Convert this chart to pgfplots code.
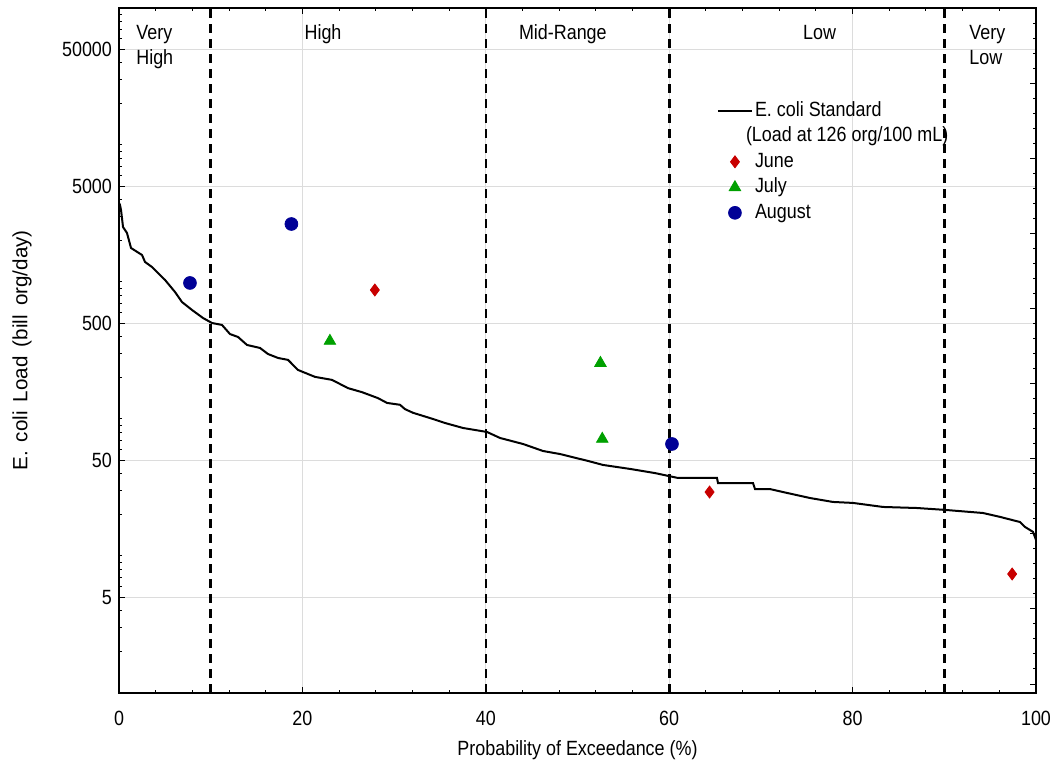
\documentclass[border=0pt]{standalone}
\usepackage{fontspec}
\setmainfont{Liberation Sans}[FakeStretch=0.87]
\newfontfamily\plainsans{Liberation Sans}
\usepackage{pgfplots}
\pgfplotsset{compat=1.18}

\definecolor{augblue}{RGB}{0,0,150}
\definecolor{junred}{RGB}{200,0,0}
\definecolor{julgreen}{RGB}{0,160,0}
\definecolor{gridgray}{RGB}{220,220,220}

\begin{document}
\begin{tikzpicture}
\begin{axis}[
  scale only axis,
  width=458.5pt, height=342.5pt,
  xmin=0, xmax=100,
  ymode=log, ymin=1, ymax=100000,
  font=\fontsize{10.3}{12}\selectfont,
  /pgf/number format/assume math mode=true,
  xtick={0,20,...,100},
  minor x tick num=4,
  ytick={5,50,500,5000,50000},
  yticklabels={5,50,500,5000,50000},
  minor ytick={2,3,4,6,7,8,9,10,20,30,40,60,70,80,90,100,200,300,400,600,700,800,900,1000,2000,3000,4000,6000,7000,8000,9000,10000,20000,30000,40000,60000,70000,80000,90000},
  xtick pos=both, ytick pos=left,
  tick align=inside,
  major tick length=3pt, minor tick length=1.7pt,
  tick style={black, line width=0.5pt},
  axis line style={black, line width=0.8pt},
  grid=major, major grid style={gridgray, line width=0.6pt},
  xticklabel style={yshift=-5.5pt},
  xlabel={Probability of Exceedance (\%)},
  ylabel={\plainsans E.\ \,coli\ \,Load\ \,(bill\ \,org/day)},
  xlabel style={at={(axis description cs:0.5,-0.0832)}, anchor=center},
  ylabel style={at={(axis description cs:-0.1058,0.5)}, anchor=center},
  legend style={at={(axis cs:64.5,23200)}, anchor=north west, draw=none, fill=none,
    font=\fontsize{10.3}{12}\selectfont, row sep=1.25pt,
    nodes={inner sep=1pt, text height=7.5pt, text depth=2pt}},
  legend cell align=left,
]
% duration curve (E. coli standard)
\addplot[black, line width=1pt] coordinates {
(0,3775) (0.11,3648) (0.22,3357) (0.44,2519) (0.87,2280) (1.31,1771) (2.51,1574)
(2.84,1400) (3.60,1286) (5.02,1035) (6.11,845) (6.87,714) (7.96,625) (9.16,546)
(10.14,502) (11.23,486) (12.10,417) (12.98,397) (13.96,347) (15.38,330) (16.25,298)
(17.34,279) (18.43,270) (19.52,228) (21.37,203) (23.23,193) (24.97,168) (26.50,157)
(28.24,142) (29.23,131) (30.64,127) (31.19,118) (32.06,111) (34.24,100) (35.55,93.5)
(37.51,86) (40.13,80.4) (41.55,72.7) (44.06,65.7) (46.24,58.4) (48.09,55.5)
(51.15,49.4) (52.78,46.2) (55.73,43.2) (58.45,40.3) (60.96,37.1) (65.21,37.1)
(65.32,34.1) (69.14,34.1) (69.36,30.8) (70.99,30.8) (72.41,29.3) (75.35,26.5)
(77.86,24.8) (80.04,24.4) (83.32,22.8) (87.02,22.4) (90.08,21.7) (94.22,20.6)
(96.07,19.3) (98.26,17.7) (98.80,16.3) (99.67,15.0) (100,13.1)
};
\addlegendentry{E. coli Standard}
\addlegendimage{empty legend}
\addlegendentry{\hspace*{-4.5pt}(Load at 126 org/100 mL)}
\addplot[only marks, mark=diamond*, mark size=3pt, color=junred] coordinates {
(27.9,874) (64.4,29.3) (97.4,7.39)
};
\addlegendentry{June}
\addplot[only marks, mark=triangle*, mark size=3.3pt, color=julgreen] coordinates {
(23.0,371) (52.5,256) (52.7,71.5)
};
\addlegendentry{July}
\addplot[only marks, mark=*, mark size=3.2pt, color=augblue] coordinates {
(7.74,984) (18.8,2650) (60.3,65.7)
};
\addlegendentry{August}
% flow regime boundaries
\addplot[forget plot, black, line width=1.3pt, dash pattern=on 4.5pt off 3pt] coordinates {(10,1) (10,100000)};
\addplot[forget plot, black, line width=1.3pt, dash pattern=on 4.5pt off 3pt] coordinates {(40,1) (40,100000)};
\addplot[forget plot, black, line width=1.3pt, dash pattern=on 4.5pt off 3pt] coordinates {(60,1) (60,100000)};
\addplot[forget plot, black, line width=1.3pt, dash pattern=on 4.5pt off 3pt] coordinates {(90,1) (90,100000)};
% regime labels
\node[anchor=base west, inner sep=0pt] at (axis cs:1.85,58400) {Very};
\node[anchor=base west, inner sep=0pt] at (axis cs:1.85,39000) {High};
\node[anchor=base, inner sep=0pt] at (axis cs:22.25,58400) {High};
\node[anchor=base, inner sep=0pt] at (axis cs:48.4,58400) {Mid-Range};
\node[anchor=base, inner sep=0pt] at (axis cs:76.4,58400) {Low};
\node[anchor=base west, inner sep=0pt] at (axis cs:92.7,58400) {Very};
\node[anchor=base west, inner sep=0pt] at (axis cs:92.7,39000) {Low};
\end{axis}
% secondary (unlabelled) right-hand scale
\begin{axis}[
  scale only axis,
  width=458.5pt, height=342.5pt,
  xmin=0, xmax=1, ymin=0, ymax=685,
  hide x axis,
  ytick pos=right, tick align=inside,
  ytick={9,84,...,684}, yticklabels={},
  minor ytick={9,24,...,684},
  major tick length=3pt, minor tick length=1.7pt,
  tick style={black, line width=0.5pt},
  axis line style={black, line width=0.8pt},
]
\addplot[draw=none] coordinates {(0,0)};
\end{axis}
\pgfresetboundingbox
\path ([shift={(-59.5pt,-38pt)}]current axis.south west) rectangle ([shift={(10.5pt,4pt)}]current axis.north east);
\end{tikzpicture}
\end{document}
